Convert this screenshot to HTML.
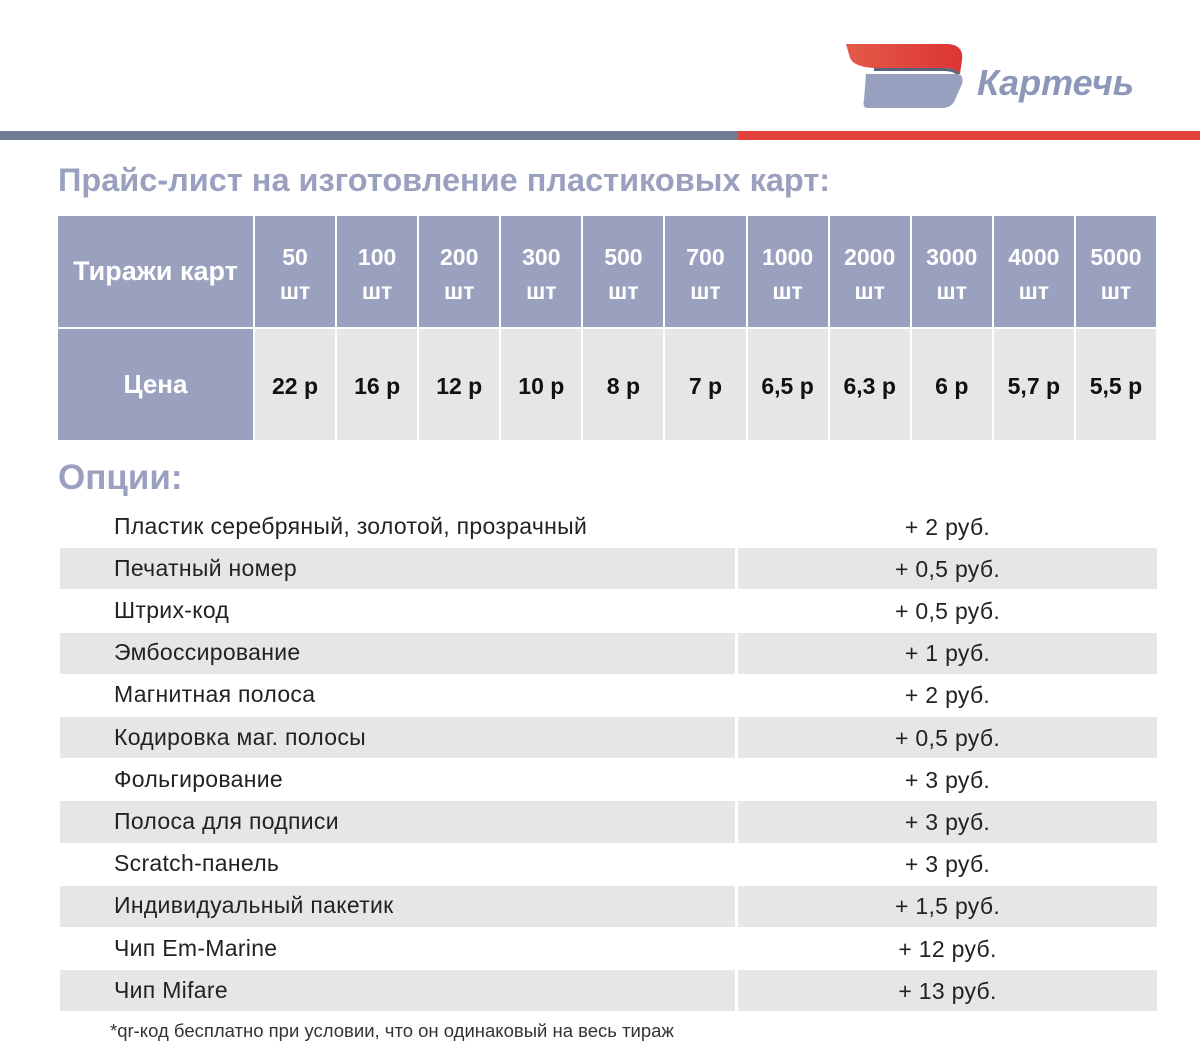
<!DOCTYPE html>
<html><head><meta charset="utf-8"><style>
body{margin:0;width:1200px;height:1060px;background:#fff;position:relative;overflow:hidden;font-family:"Liberation Sans","DejaVu Sans",sans-serif}
.a{position:absolute}
.hc{position:absolute;background:#9aa1bf;color:#fff;font-weight:bold;text-align:center;display:flex;flex-direction:column;justify-content:center;align-items:center}
.pc{position:absolute;background:#e6e6e6;color:#111;font-weight:bold;font-size:23px;display:flex;justify-content:center;align-items:center}
.opt{position:absolute;font-size:23px;letter-spacing:0.3px;color:#222;display:flex;align-items:center}
</style></head><body>
<svg class="a" style="left:840px;top:40px" width="130" height="75">
<defs><linearGradient id="rg" x1="0" x2="1"><stop offset="0" stop-color="#e45a48"/><stop offset="1" stop-color="#dd3434"/></linearGradient></defs>
<path d="M26 34 L118 34 Q124 35 122 44 L114 62 Q110 68 102 68 L28 68 Q22 68 24 60 Z" fill="#98a0bf"/>
<path d="M6 4 L108 4 Q124 5 122 20 L120 34 Q116 28 104 28 L34 28 Q14 27 10 18 Z" fill="url(#rg)"/>
<path d="M34 28 L104 28 Q116 28 120 34 L116 34 Q112 31 104 31 L34 31 Z" fill="#5a6478"/>
</svg>
<div class="a" style="left:977px;top:62px;font-size:36px;font-weight:bold;font-style:italic;color:#8d98b8">Картечь</div>
<div class="a" style="left:0;top:131px;width:738px;height:9px;background:#6f7a93"></div>
<div class="a" style="left:738px;top:131px;width:462px;height:9px;background:#e0443a"></div>
<div class="a" style="left:58px;top:162px;font-size:32.5px;font-weight:bold;color:#9aa1bf">Прайс-лист на изготовление пластиковых карт:</div>
<div class="hc" style="left:58px;top:216px;width:195px;height:111px;font-size:27px">Тиражи карт</div>
<div class="hc" style="left:58px;top:329px;width:195px;height:111px;font-size:26px">Цена</div>
<div id="tbl"></div>
<div class="a" style="left:58px;top:458px;font-size:35px;font-weight:bold;color:#9aa1bf">Опции:</div>
<div id="opts"></div>
<div class="a" style="left:110px;top:1020px;font-size:18.5px;color:#333">*qr-код бесплатно при условии, что он одинаковый на весь тираж</div>
<script>
const quantities=["50","100","200","300","500","700","1000","2000","3000","4000","5000"];
const prices=["22 р","16 р","12 р","10 р","8 р","7 р","6,5 р","6,3 р","6 р","5,7 р","5,5 р"];
const options=["Пластик серебряный, золотой, прозрачный","Печатный номер","Штрих-код","Эмбоссирование","Магнитная полоса","Кодировка маг. полосы","Фольгирование","Полоса для подписи","Scratch-панель","Индивидуальный пакетик","Чип Em-Marine","Чип Mifare"];
const optionPrices=["+ 2 руб.","+ 0,5 руб.","+ 0,5 руб.","+ 1 руб.","+ 2 руб.","+ 0,5 руб.","+ 3 руб.","+ 3 руб.","+ 3 руб.","+ 1,5 руб.","+ 12 руб.","+ 13 руб."];
const tbl=document.getElementById('tbl');
const x0=255,cw=(1158-255)/quantities.length;
quantities.forEach((q,i)=>{
 const h=document.createElement('div');h.className='hc';
 
 
 h.style.cssText=`left:${x0+i*cw}px;top:216px;width:${cw-2}px;height:111px;font-size:23px;line-height:34px;padding-top:4px;box-sizing:border-box`;
 h.innerHTML=q+'<br>шт';tbl.appendChild(h);
 const p=document.createElement('div');p.className='pc';
 
 
 p.style.cssText=`left:${x0+i*cw}px;top:329px;width:${cw-2}px;height:111px;padding-top:3px;box-sizing:border-box`;
 p.textContent=prices[i];tbl.appendChild(p);
});
const o=document.getElementById('opts');
const y0=505,rh=42.2;
options.forEach((t,i)=>{
 const y=y0+i*rh;
 if(i%2==1){
  const g1=document.createElement('div');g1.className='a';
  
  
  g1.style.cssText=`left:60px;top:${y+1}px;width:675px;height:${rh-1}px;background:#e6e6e6`;o.appendChild(g1);
  const g2=document.createElement('div');g2.className='a';
  
  
  g2.style.cssText=`left:738px;top:${y+1}px;width:419px;height:${rh-1}px;background:#e6e6e6`;o.appendChild(g2);
 }
 const n=document.createElement('div');n.className='opt';
 
 
 n.style.cssText=`left:114px;top:${y}px;height:${rh}px`;n.textContent=t;o.appendChild(n);
 const v=document.createElement('div');v.className='opt';
 
 
 v.style.cssText=`left:738px;width:419px;justify-content:center;top:${y+1}px;height:${rh}px`;v.textContent=optionPrices[i];o.appendChild(v);
});
</script>
</body></html>
